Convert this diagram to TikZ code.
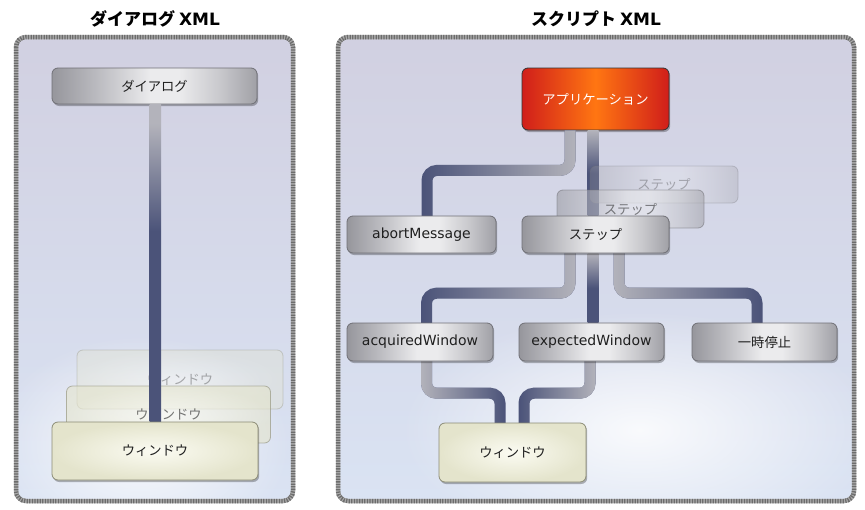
\documentclass[tikz,border=0pt]{standalone}
\usepackage{fontspec}
\setmainfont{Noto Sans CJK JP}
\newfontfamily\latinf{DejaVu Sans}
\usetikzlibrary{shadows,fadings}
\definecolor{navy}{HTML}{4B5379}
\definecolor{lightc}{HTML}{B3B3BB}
\definecolor{boxline}{HTML}{707076}
\definecolor{gA}{HTML}{96969C}
\definecolor{gB}{HTML}{BBBBC0}
\definecolor{gC}{HTML}{EBEBED}
\definecolor{gE}{HTML}{C8C8CC}
\definecolor{gD}{HTML}{A0A0A6}
\definecolor{appR}{HTML}{D01E1A}
\definecolor{appO}{HTML}{FF7612}
\definecolor{wline}{HTML}{8C8C76}
\definecolor{wIn}{HTML}{FBFBF2}
\definecolor{wOut}{HTML}{E4E4CC}
\definecolor{bgT}{HTML}{D1D0E1}
\definecolor{bgB}{HTML}{DAE3F3}
\definecolor{brdL}{HTML}{ABABAB}
\definecolor{brdD}{HTML}{6C6C6C}
\pgfdeclarehorizontalshading{graybox}{100bp}{color(0bp)=(gA); color(25bp)=(gA); color(36bp)=(gB); color(49bp)=(gC); color(56bp)=(gC); color(66bp)=(gE); color(75bp)=(gD); color(100bp)=(gD)}
\pgfdeclareverticalshading{vconn}{100bp}{color(0bp)=(navy); color(50bp)=(navy); color(75bp)=(lightc); color(100bp)=(lightc)}
\pgfdeclareverticalshading{vconnlong}{100bp}{color(0bp)=(navy); color(55bp)=(navy); color(72bp)=(lightc); color(100bp)=(lightc)}
\tikzfading[name=fadetoleft, left color=transparent!100, right color=transparent!0]
\tikzfading[name=fadetoright, left color=transparent!0, right color=transparent!100]
\tikzfading[name=glow, inner color=transparent!0, outer color=transparent!100]
\begin{document}
\begin{tikzpicture}[x=1pt, y=-1pt,
  boxtext/.style={font=\fontsize{13.3}{15}\selectfont},
  latintext/.style={font=\latinf\fontsize{14}{16}\selectfont},
  graynode/.style={boxtext, rounded corners=6pt, draw=boxline, line width=0.8pt,
    shading=graybox, inner sep=0pt, text=black!88},
  appnode/.style={boxtext, rounded corners=6pt, draw=black!80, line width=0.8pt,
    left color=appR, right color=appR, middle color=appO, inner sep=0pt, text=white},
  winnode/.style={boxtext, rounded corners=6pt, draw=wline, line width=0.8pt,
    inner color=wIn, outer color=wOut, inner sep=0pt, text=black!88},
  shadowed/.style={drop shadow={shadow xshift=1.2pt, shadow yshift=-2pt, opacity=0.28, fill=black}},
  ghost/.style={opacity=#1, text opacity=#1},
  slot/.style={inner sep=0pt},
  bend/.style={line width=11pt, rounded corners=10pt, draw=navy,
    postaction={draw=lightc, path fading=#1, fit fading=true}},
  panelbrd/.style={line width=4.5pt, rounded corners=10pt},
  title/.style={font=\bfseries\fontsize{17}{20}\selectfont, text=black}
]
\useasboundingbox (0,0) rectangle (865,509);

% ---------- panels ----------
\begin{scope}
  \path[clip, rounded corners=10pt] (16,37) rectangle (293,501);
  \shade[top color=bgT, bottom color=bgB] (16,37) rectangle (293,501);
  \fill[white, path fading=glow, fill opacity=0.85] (140,445) ellipse (150 and 110);
\end{scope}
\draw[panelbrd, brdL] (16,37) rectangle (293,501);
\draw[panelbrd, brdD, dash pattern=on 1.3pt off 1.3pt] (16,37) rectangle (293,501);

\begin{scope}
  \path[clip, rounded corners=10pt] (338,37) rectangle (854,501);
  \shade[top color=bgT, bottom color=bgB] (338,37) rectangle (854,501);
  \fill[white, path fading=glow, fill opacity=0.85] (640,430) ellipse (240 and 120);
\end{scope}
\draw[panelbrd, brdL] (338,37) rectangle (854,501);
\draw[panelbrd, brdD, dash pattern=on 1.3pt off 1.3pt] (338,37) rectangle (854,501);

% ---------- titles ----------
\node[title] (t1) at (155,19) {ダイアログ {\latinf\bfseries XML}};
\node[title] (t2) at (596,19) {スクリプト {\latinf\bfseries XML}};

% ---------- left panel ----------
\node[graynode, shadowed, minimum width=205pt, minimum height=36pt] (dlg) at (154.5,86) {ダイアログ};
\node[winnode, ghost=0.35, minimum width=206pt, minimum height=59pt] (wback) at (180,379.5) {ウィンドウ};
\node[winnode, ghost=0.6, minimum width=204pt, minimum height=57pt] (wmid) at (168.5,414.5) {ウィンドウ};
\node[slot, minimum width=206pt, minimum height=58pt] (wfront) at (155,451) {};
\shade[shading=vconnlong] ([xshift=-5pt]dlg.south) rectangle ([xshift=6pt]wfront.north);
\node[winnode, shadowed, minimum width=206pt, minimum height=58pt] at (wfront) {ウィンドウ};

% ---------- right panel node slots ----------
\node[appnode, shadowed, minimum width=147pt, minimum height=62pt] (app) at (595.5,99) {アプリケーション};
\path node[slot, minimum width=149pt, minimum height=37pt] (abort) at (421.5,234.5) {}
      node[slot, minimum width=147pt, minimum height=37pt] (step) at (595.5,234.5) {}
      node[slot, minimum width=146pt, minimum height=38pt] (acq) at (420,342) {}
      node[slot, minimum width=145pt, minimum height=38pt] (exp) at (591.5,342) {}
      node[slot, minimum width=145pt, minimum height=38pt] (pause) at (764.5,342) {}
      node[slot, minimum width=147pt, minimum height=59pt] (win) at (512.5,452.5) {};

% connectors
\draw[bend=fadetoleft] ([xshift=-25.5pt]app.south) -- ++(0,40) -| ([xshift=5.5pt]abort.north);
\shade[shading=vconn] ([xshift=-8pt]app.south) rectangle ([xshift=3pt]step.north);
\draw[bend=fadetoleft] ([xshift=-25.5pt]step.south) -- ++(0,40) -| ([xshift=6.5pt]acq.north);
\shade[shading=vconn] ([xshift=-8pt]step.south) rectangle ([xshift=7pt]exp.north);
\draw[bend=fadetoright] ([xshift=23.5pt]step.south) -- ++(0,40) -| ([xshift=-7.5pt]pause.north);
\draw[bend=fadetoright] ([xshift=6.5pt]acq.south) -- ++(0,32) -| ([xshift=-12.5pt]win.north);
\draw[bend=fadetoleft] ([xshift=-1.5pt]exp.south) -- ++(0,32) -| ([xshift=11.5pt]win.north);

% ghost steps
\node[graynode, ghost=0.3, minimum width=148pt, minimum height=37pt] (stepg1) at (664,184.5) {ステップ};
\node[graynode, ghost=0.55, minimum width=147pt, minimum height=38pt] (stepg2) at (630.5,209) {ステップ};

% visible boxes
\node[graynode, latintext, shadowed, minimum width=149pt, minimum height=37pt] at (abort) {abortMessage};
\node[graynode, shadowed, minimum width=147pt, minimum height=37pt] at (step) {ステップ};
\node[graynode, latintext, shadowed, minimum width=146pt, minimum height=38pt] at (acq) {acquiredWindow};
\node[graynode, latintext, shadowed, minimum width=145pt, minimum height=38pt] at (exp) {expectedWindow};
\node[graynode, shadowed, minimum width=145pt, minimum height=38pt] at (pause) {一時停止};
\node[winnode, shadowed, minimum width=147pt, minimum height=59pt] at (win) {ウィンドウ};
\end{tikzpicture}
\end{document}
